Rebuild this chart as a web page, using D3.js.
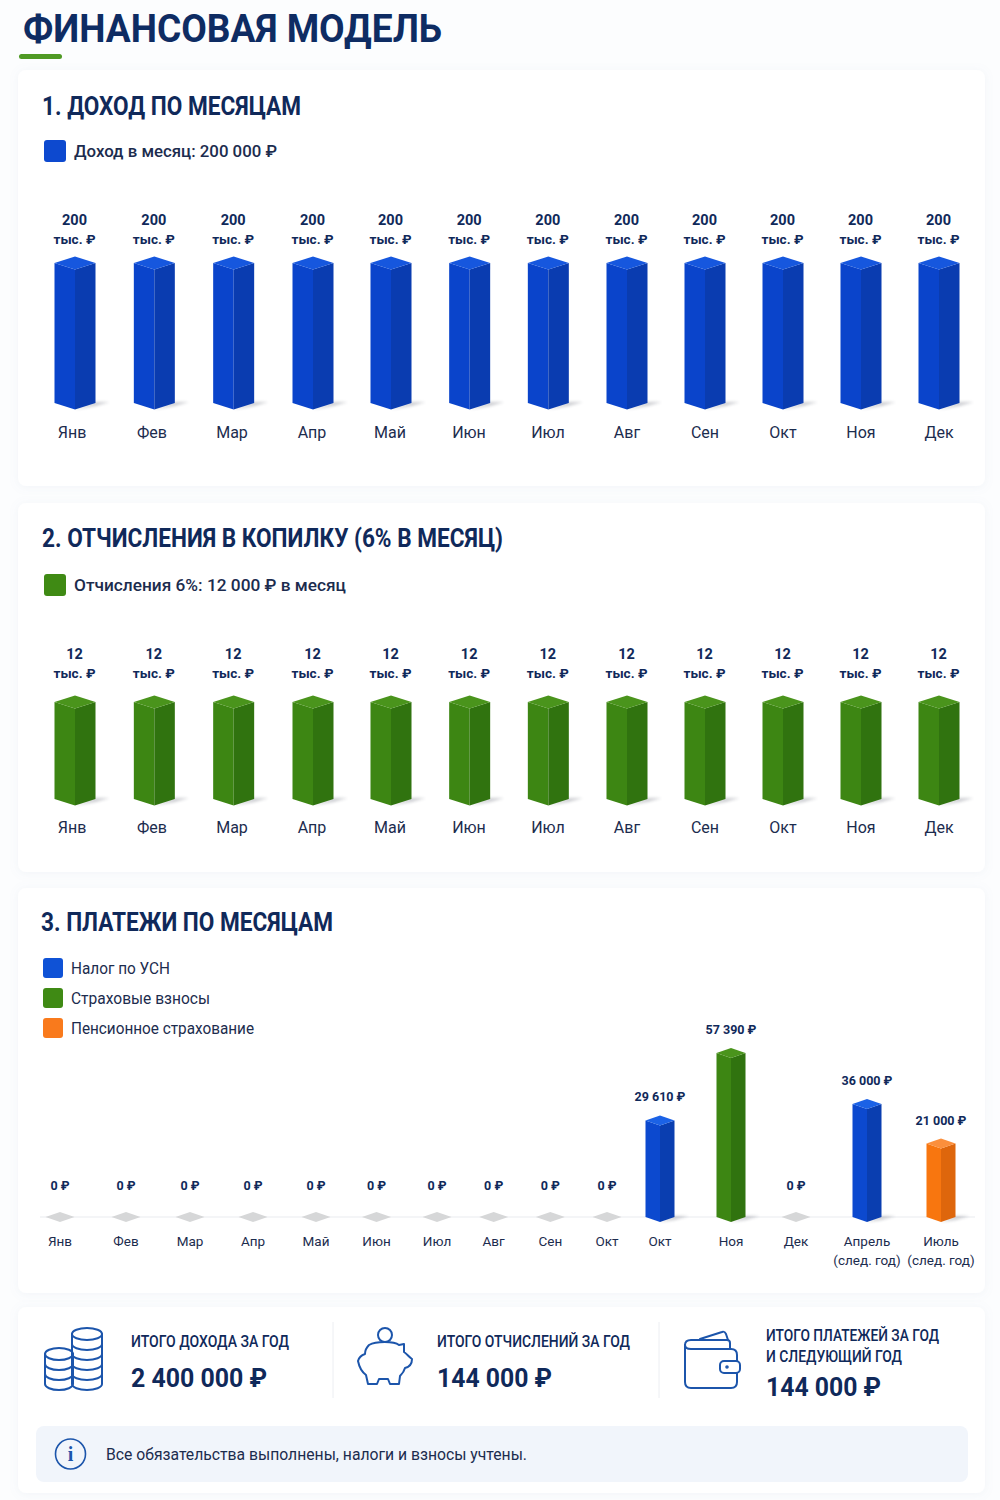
<!DOCTYPE html>
<html lang="ru">
<head>
<meta charset="utf-8">
<title>Финансовая модель</title>
<script src="https://cdn.jsdelivr.net/npm/d3@7"></script>
<style>
    html, body { margin: 0; padding: 0; background: #fcfdfe; }
    svg { display: block; }
    text { font-family: Roboto, "Noto Sans", sans-serif; }
</style>
</head>
<body>
<div id="chart"></div>
<script>
// values
const months = ["Янв", "Фев", "Мар", "Апр", "Май", "Июн", "Июл", "Авг", "Сен", "Окт", "Ноя", "Дек"];
const incomeValues = [200000, 200000, 200000, 200000, 200000, 200000, 200000, 200000, 200000, 200000, 200000, 200000];
const savingsValues = [12000, 12000, 12000, 12000, 12000, 12000, 12000, 12000, 12000, 12000, 12000, 12000];

const paymentMonths = ["Янв", "Фев", "Мар", "Апр", "Май", "Июн", "Июл", "Авг", "Сен", "Окт", "Окт", "Ноя", "Дек", "Апрель", "Июль"];
const paymentNotes = ["", "", "", "", "", "", "", "", "", "", "", "", "", "(след. год)", "(след. год)"];
const paymentValues = [0, 0, 0, 0, 0, 0, 0, 0, 0, 0, 29610, 57390, 0, 36000, 21000];
const paymentTypes = ["", "", "", "", "", "", "", "", "", "", "usn", "insurance", "", "usn", "pension"];

const paymentLegend = [
    {type: "usn", label: "Налог по УСН", width: 99},
    {type: "insurance", label: "Страховые взносы", width: 139},
    {type: "pension", label: "Пенсионное страхование", width: 183}
];

const palette = {
    usn: {top: "#1b62e6", left: "#0c49cf", right: "#0a3eb0", swatch: "#0f52d6"},
    income: {top: "#1657de", left: "#0a44cb", right: "#0a3cb0", swatch: "#0d49cf"},
    insurance: {top: "#4a941c", left: "#3d8613", right: "#30730f", swatch: "#3f8a14"},
    pension: {top: "#fb8f3c", left: "#f8760f", right: "#de660c", swatch: "#f97a1c"},
    zero: {top: "#d6d7d8"}
};

const navy = "#10295a";
const ink = "#1c2c4e";
const iconBlue = "#1c55ab";

const rub = d3.formatLocale({decimal: ",", thousands: " ", grouping: [3], currency: ["", " ₽"]}).format("$,");

const svg = d3.select("#chart").append("svg")
    .attr("width", 1000)
    .attr("height", 1500)
    .attr("viewBox", "0 0 1000 1500");

const defs = svg.append("defs");

let cardShadow = defs.append("filter").attr("id", "card-shadow")
    .attr("x", "-5%").attr("y", "-5%").attr("width", "110%").attr("height", "110%");
cardShadow.append("feDropShadow")
    .attr("dx", 0).attr("dy", 1).attr("stdDeviation", 4)
    .attr("flood-color", "#8ea2c4").attr("flood-opacity", 0.1);

defs.append("filter").attr("id", "soft")
    .attr("x", "-50%").attr("y", "-100%").attr("width", "200%").attr("height", "300%")
    .append("feGaussianBlur").attr("stdDeviation", 1.8);

svg.append("rect").attr("width", 1000).attr("height", 1500).attr("fill", "#fcfdfe");

// text helper, width squeezes the glyphs because there is no Roboto Condensed here
function addText(parent, str, x, y, opts) {
    let o = opts || {};
    let t = parent.append("text")
        .attr("x", x)
        .attr("y", y)
        .attr("font-size", o.size || 14)
        .attr("font-weight", o.weight || 400)
        .attr("fill", o.fill || ink)
        .attr("text-anchor", o.anchor || "start")
        .text(str);
    if (o.width) {
        t.attr("textLength", o.width).attr("lengthAdjust", "spacingAndGlyphs");
    }
    return t;
}

function addCard(x, y, w, h) {
    svg.append("rect")
        .attr("x", x).attr("y", y)
        .attr("width", w).attr("height", h)
        .attr("rx", 8)
        .attr("fill", "#ffffff")
        .attr("filter", "url(#card-shadow)");
}

function pts(list) {
    return list.map(p => p.join(",")).join(" ");
}

// isometric bars, one group per data row
function drawBars(parent, data, cfg) {
    let groups = parent.selectAll(".bar").data(data).enter().append("g").attr("class", "bar");

    groups.filter(d => d.value > 0).append("polygon")
        .attr("points", d => {
            let x = cfg.x(d.i);
            return pts([[x, cfg.base + cfg.dy], [x + cfg.hw, cfg.base - 1], [x + cfg.hw + 14, cfg.base - 1], [x + cfg.hw, cfg.base + 3]]);
        })
        .attr("fill", "#1c2435")
        .attr("opacity", 0.22)
        .attr("filter", "url(#soft)");

    groups.filter(d => d.value > 0).append("polygon")
        .attr("points", d => {
            let x = cfg.x(d.i), top = cfg.y(d.value);
            return pts([[x - cfg.hw, top], [x, top + cfg.dy], [x, cfg.base + cfg.dy], [x - cfg.hw, cfg.base]]);
        })
        .attr("fill", d => palette[d.type].left);

    groups.filter(d => d.value > 0).append("polygon")
        .attr("points", d => {
            let x = cfg.x(d.i), top = cfg.y(d.value);
            return pts([[x, top + cfg.dy], [x + cfg.hw, top], [x + cfg.hw, cfg.base], [x, cfg.base + cfg.dy]]);
        })
        .attr("fill", d => palette[d.type].right);

    groups.append("polygon")
        .attr("points", d => {
            let x = cfg.x(d.i), top = cfg.y(d.value);
            return pts([[x - cfg.hw, top], [x, top - cfg.dy], [x + cfg.hw, top], [x, top + cfg.dy]]);
        })
        .attr("fill", d => d.value > 0 ? palette[d.type].top : palette.zero.top);
}

// the 12 month charts: columns are not quite evenly spaced in the picture
const monthIdx = [0, 3, 4, 7, 8, 11];
const monthX = d3.scaleLinear().domain(monthIdx).range([75, 313, 391, 627, 705, 939]);
const monthLabelX = d3.scaleLinear().domain(monthIdx).range([72, 312, 390, 627, 705, 939]);

function monthChart(values, type, cfg) {
    let g = svg.append("g");
    let y = d3.scaleLinear().domain([0, d3.max(values)]).range([cfg.base, cfg.top]);
    let data = values.map((v, i) => ({i: i, value: v, type: type}));

    drawBars(g, data, {x: monthX, y: y, base: cfg.base, hw: 20.5, dy: 6.5});

    data.forEach(d => {
        addText(g, d.value / 1000, monthX(d.i) - 0.5, cfg.labelY, {size: 14.5, weight: 700, fill: navy, anchor: "middle"});
        addText(g, "тыс. ₽", monthX(d.i) - 0.5, cfg.labelY + 19, {size: 13, weight: 700, fill: navy, anchor: "middle", width: 42});
        addText(g, months[d.i], monthLabelX(d.i), cfg.monthY, {size: 16, anchor: "middle"});
    });
}

// page title
addText(svg, "ФИНАНСОВАЯ МОДЕЛЬ", 23, 42, {size: 38, weight: 700, fill: "#0e2c63", width: 419});
svg.append("rect").attr("x", 19).attr("y", 54).attr("width", 43).attr("height", 5).attr("rx", 2.5).attr("fill", "#4f9a24");

// 1. income
addCard(18, 70, 967, 416);
addText(svg, "1. ДОХОД ПО МЕСЯЦАМ", 42, 115, {size: 26, weight: 700, fill: navy, width: 259});
svg.append("rect").attr("x", 44).attr("y", 140).attr("width", 22).attr("height", 22).attr("rx", 3).attr("fill", palette.income.swatch);
addText(svg, "Доход в месяц: " + rub(200000), 74, 157, {size: 17, weight: 500, width: 203});
monthChart(incomeValues, "income", {base: 403, top: 263, labelY: 225, monthY: 438});

// 2. savings
addCard(18, 503, 967, 369);
addText(svg, "2. ОТЧИСЛЕНИЯ В КОПИЛКУ (6% В МЕСЯЦ)", 42, 547, {size: 26, weight: 700, fill: navy, width: 461});
svg.append("rect").attr("x", 44).attr("y", 574).attr("width", 22).attr("height", 22).attr("rx", 3).attr("fill", palette.insurance.swatch);
addText(svg, "Отчисления 6%: 12 000 ₽ в месяц", 74, 591, {size: 17, weight: 500, width: 272});
monthChart(savingsValues, "insurance", {base: 799, top: 702, labelY: 659, monthY: 833});

// 3. payments
addCard(18, 888, 967, 405);
addText(svg, "3. ПЛАТЕЖИ ПО МЕСЯЦАМ", 41, 931, {size: 26, weight: 700, fill: navy, width: 292});

paymentLegend.forEach((d, i) => {
    svg.append("rect").attr("x", 43).attr("y", 958 + i * 30).attr("width", 20).attr("height", 20).attr("rx", 3).attr("fill", palette[d.type].swatch);
    addText(svg, d.label, 71, 974 + i * 30, {size: 16, width: d.width});
});

const payBase = 1217;
const payX = d3.scaleLinear()
    .domain([0, 1, 2, 4, 6, 9, 10, 11, 12, 13, 14])
    .range([60, 126, 190, 316, 437, 607, 660, 731, 796, 867, 941]);
// heights in the picture are not proportional to the values, a power scale follows them best
const payY = d3.scalePow().exponent(0.8).domain([0, 57390]).range([payBase, 1053]);

const payData = paymentValues.map((v, i) => ({i: i, value: v, type: paymentTypes[i]}));
const payG = svg.append("g");

payG.append("line")
    .attr("x1", 40).attr("x2", 975)
    .attr("y1", payBase).attr("y2", payBase)
    .attr("stroke", "#f0f2f5").attr("stroke-width", 1.5);

drawBars(payG, payData, {x: payX, y: payY, base: payBase, hw: 14.5, dy: 5});

payData.forEach(d => {
    let labelY = d.value > 0 ? payY(d.value) - 19 : 1190;
    addText(payG, rub(d.value), payX(d.i), labelY, {size: 12.5, weight: 700, fill: navy, anchor: "middle"});
    addText(payG, paymentMonths[d.i], payX(d.i), 1246, {size: 13.5, anchor: "middle"});
    if (paymentNotes[d.i]) {
        addText(payG, paymentNotes[d.i], payX(d.i), 1265, {size: 13.5, anchor: "middle"});
    }
});

// totals card
addCard(18, 1307, 967, 186);

[333, 659].forEach(x => {
    svg.append("line").attr("x1", x).attr("x2", x).attr("y1", 1322).attr("y2", 1398)
        .attr("stroke", "#eceef2").attr("stroke-width", 1);
});

addText(svg, "ИТОГО ДОХОДА ЗА ГОД", 131, 1347, {size: 16, weight: 500, fill: navy, width: 158});
addText(svg, rub(2400000), 131, 1387, {size: 26, weight: 700, fill: navy, width: 136});
addText(svg, "ИТОГО ОТЧИСЛЕНИЙ ЗА ГОД", 437, 1347, {size: 16, weight: 500, fill: navy, width: 193});
addText(svg, rub(144000), 437, 1387, {size: 26, weight: 700, fill: navy, width: 115});
addText(svg, "ИТОГО ПЛАТЕЖЕЙ ЗА ГОД", 766, 1341, {size: 16, weight: 500, fill: navy, width: 173});
addText(svg, "И СЛЕДУЮЩИЙ ГОД", 766, 1362, {size: 16, weight: 500, fill: navy, width: 136});
addText(svg, rub(144000), 766, 1396, {size: 26, weight: 700, fill: navy, width: 115});

// icons
let icons = svg.append("g")
    .attr("fill", "none")
    .attr("stroke", iconBlue)
    .attr("stroke-width", 2)
    .attr("stroke-linejoin", "round")
    .attr("stroke-linecap", "round");

function coinStack(cx, rx, topY, layers) {
    icons.append("ellipse").attr("cx", cx).attr("cy", topY).attr("rx", rx).attr("ry", 6);
    let step = 10;
    for (let k = 0; k < layers; k++) {
        let y = topY + k * step;
        icons.append("path")
            .attr("d", `M${cx - rx},${y} V${y + step} A${rx},6 0 0 0 ${cx + rx},${y + step} V${y}`);
    }
}
coinStack(87, 15, 1334, 5);
coinStack(59, 14, 1354, 3);

// piggy
icons.append("circle").attr("cx", 385).attr("cy", 1335).attr("r", 7);
icons.append("path").attr("d", "M369,1345 C376,1341 394,1341 399,1345 L404,1344 L404,1352 C407,1354 409,1357 412,1359 C412,1364 409,1367 405,1368 C404,1372 402,1374 400,1376 L399,1384 L390,1384 L388,1379 L379,1379 L377,1384 L368,1384 L366,1375 C362,1372 359,1366 358,1361 C359,1357 362,1355 365,1354 C365,1351 366,1348 369,1345 Z");

// wallet
icons.append("path").attr("d", "M700,1339 L722,1332 C724,1331 725,1332 726,1334 L728,1340");
icons.append("path").attr("d", "M730,1349 V1343 C730,1341 729,1340 727,1340 H691 C687,1340 685,1342 685,1345 V1382 C685,1386 687,1388 691,1388 H731 C735,1388 737,1386 737,1382 V1373");
icons.append("path").attr("d", "M685,1345 C685,1348 687,1349 691,1349 H731 C735,1349 737,1351 737,1355 V1361");
icons.append("rect").attr("x", 720).attr("y", 1361).attr("width", 20).attr("height", 12).attr("rx", 4);
icons.append("circle").attr("cx", 727).attr("cy", 1367).attr("r", 0.8);

// info strip
svg.append("rect").attr("x", 36).attr("y", 1426).attr("width", 932).attr("height", 56).attr("rx", 8).attr("fill", "#f1f5fb");
svg.append("circle").attr("cx", 70.5).attr("cy", 1454).attr("r", 15)
    .attr("fill", "none").attr("stroke", iconBlue).attr("stroke-width", 1.6);
addText(svg, "i", 70.5, 1461, {size: 20, weight: 700, fill: iconBlue, anchor: "middle"}).style("font-family", "'Liberation Serif', serif");
addText(svg, "Все обязательства выполнены, налоги и взносы учтены.", 106, 1460, {size: 16, width: 421});
</script>
</body>
</html>
